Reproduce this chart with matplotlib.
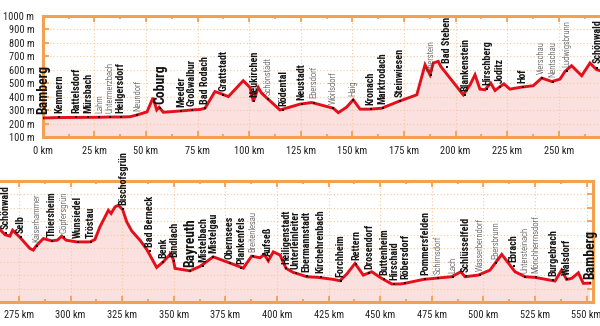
import matplotlib
matplotlib.use("Agg")
import matplotlib.pyplot as plt
from matplotlib.ticker import MultipleLocator, FuncFormatter, FixedLocator

plt.rcParams['font.family'] = ['Roboto Condensed', 'Asap Condensed', 'Archivo Narrow',
                               'Liberation Sans Narrow', 'DejaVu Sans']

# ---------------- data ----------------
profile_km = [0, 8, 16, 22, 27.5, 32.6, 37.7, 42.3, 45.6, 50.5, 53.4, 55.2, 56.4, 58.4, 67, 72.3,
              76.3, 78.6, 83.4, 85.7, 89.9, 97.1, 100.4, 102, 104.4, 106, 114.9, 124.6, 130.3,
              140.7, 143.2, 147.2, 150.4, 153.7, 158.5, 164.2, 172.2, 181.2, 185.2, 187.6, 189.2,
              191.6, 192.8, 203.7, 207, 209.4, 211.8, 214.2, 217, 219.1, 221.2, 223.4, 226.3, 232,
              237.6, 241.7, 246.6, 250.6, 253, 256.2, 261.1, 265.1, 268.3, 270.6, 271.9, 275.5,
              280.3, 281.9, 283.2, 286.8, 290.8, 293.6, 295.7, 297.8, 303, 309.4, 311.8, 314.2,
              318.3, 319.6, 321.5, 323.1, 325.2, 327.2, 329.6, 333.6, 336.9, 341.7, 344.9, 348.6,
              349.8, 350.6, 357.8, 362.7, 369.1, 377.2, 383.7, 387.7, 391.8, 393.8, 395.8, 398.2,
              401.5, 404.4, 407.9, 411.1, 414.4, 420, 427.3, 430.5, 433.8, 437.8, 441.8, 445.9,
              450.7, 455.6, 459.6, 462, 470.9, 476.6, 484.6, 489.1, 491.1, 497.5, 503.2, 505.6,
              508.9, 512.9, 515.3, 520.2, 525, 534.7, 537.9, 540.3, 542.8, 546, 548.4, 551.6]
profile_elev = [243, 246, 247, 248, 248, 250, 250, 252, 265, 288, 392, 302, 322, 285, 295, 302,
                306, 315, 438, 426, 401, 518, 468, 364, 468, 426, 302, 345, 357,
                315, 282, 323, 377, 308, 308, 315, 364, 414, 636, 562, 649,
                661, 624, 414, 488, 562, 456, 451, 501, 446, 471, 495, 456, 471,
                481, 538, 512, 530, 587, 629, 555, 649, 600, 590, 634, 580,
                498, 486, 515, 572, 555, 560, 590, 560, 547, 547, 565, 659,
                782, 758, 807, 820, 788, 696, 629, 560, 491, 357, 399, 461,
                412, 350, 332, 365, 436, 390, 352, 441, 429, 454, 406, 473,
                449, 350, 320, 305, 288, 283, 268, 258, 308, 387, 300, 325,
                276, 234, 234, 239, 268, 276, 288, 325, 288, 300, 337, 387,
                454, 374, 325, 288, 283, 256, 337, 268, 276, 317, 239, 240]

town_names = ["Bamberg", "Kemmern", "Rattelsdorf", "Mürsbach", "Lahm", "Untermerzbach",
              "Heilgersdorf", "Neundorf", "Coburg", "Meeder", "Großwalbur", "Bad Rodach",
              "Grattstadt", "Neukirchen", "Schönstädt", "Rödental", "Neustadt", "Ebersdorf",
              "Wörlsdorf", "Haig", "Kronach", "Marktrodach", "Steinwiesen", "Eberstein",
              "Bad Steben", "Blankenstein", "Hirschberg", "Joditz", "Hof", "Vierschau",
              "Nentschau", "Ludwigsbrunn", "Schönwald", "Selb", "Kaiserhammer", "Thiersheim",
              "Göpfersgrün", "Wunsiedel", "Tröstau", "Bischofsgrün", "Bad Berneck", "Benk",
              "Bindlach", "Bayreuth", "Mistelbach", "Mistelgau", "Obernsees", "Plankenfels",
              "Breitenlesau", "Aufseß", "Heiligenstadt", "Unterleinleiter", "Ebermannstadt",
              "Kirchehrenbach", "Forchheim", "Rettern", "Drosendorf", "Buttenheim", "Hirschaid",
              "Röbersdorf", "Pommersfelden", "Schirnsdorf", "Lach", "Schlüsselfeld",
              "Wasserberndorf", "Ebersbrunn", "Ebrach", "Untersteinach", "Mönchherrnsdorf",
              "Burgebrach", "Walsdorf", "Bamberg"]
town_km = [0, 8, 16.1, 22, 27.4, 32.6, 37.7, 45.8, 57, 67, 72.1, 78.6,
           87.5, 102.5, 109.3, 116.5, 125.4, 131.4, 140.7, 150.4, 158.9, 164.7, 173, 187.9,
           195.7, 204.6, 215.4, 221.5, 232.5, 241.7, 247, 253.8, 268.6, 275.8, 283.6, 290.8,
           296.8, 303.4, 309.7, 325.5, 338.5, 344.9, 350.2, 357.8, 364.3, 369.1, 377.2, 382.8,
           388.2, 395.8, 404.4, 409, 414.4, 421.2, 430.9, 438.3, 444.7, 452, 456.8,
           462, 471.7, 478.1, 485.1, 491.6, 498.4, 506.2, 514.6, 520.2, 525.5,
           533.9, 540.3, 551.6]
town_elev = [243, 247, 247, 248, 248, 250, 250, 262, 318, 295, 302, 315,
             415, 365, 385, 302, 345, 357, 315, 377, 308, 315, 365, 562,
             620, 414, 455, 471, 471, 538, 512, 590, 615, 580, 515, 555,
             585, 547, 547, 790, 480, 400, 405, 332, 370, 436, 390, 355,
             441, 410, 350, 312, 290, 283, 258, 385, 318, 270, 234,
             239, 268, 278, 288, 290, 300, 390, 370, 288, 283,
             260, 268, 240]
# 2 = main city, 1 = town, 0 = village
town_rank = [2, 1, 1, 1, 0, 0, 1, 0, 2, 1, 1, 1,
             1, 1, 0, 1, 1, 0, 0, 0, 1, 1, 1, 0,
             1, 1, 1, 1, 1, 0, 0, 0, 1, 1, 0, 1,
             0, 1, 1, 1, 1, 1, 1, 2, 1, 1, 1, 1,
             0, 1, 1, 1, 1, 1, 1, 1, 1, 1, 1,
             1, 1, 0, 0, 1, 0, 0, 1, 0, 0,
             1, 1, 2]

y_ticks = [100, 200, 300, 400, 500, 600, 700, 800, 900, 1000]
x_ticks = [0, 25, 50, 75, 100, 125, 150, 175, 200, 225, 250, 275, 300, 325, 350, 375,
           400, 425, 450, 475, 500, 525, 550]

# ---------------- style ----------------
ORANGE = '#f5a04e'
GRID = '#f6caa0'
RED = '#e3101c'
FILL = '#fbe0e0'

W, H = 600, 326
fig = plt.figure(figsize=(W / 100, H / 100), dpi=100)

px_per_km = 2.064
top_left_px, top_bottom_px, top_top_px = 42.8, 137.3, 15.5
bot_bottom_px, bot_top_px = 302.0, 181.0
top_xlim = (0, (W - top_left_px) / px_per_km)
bot_left_km = 275 - 19 / px_per_km
bot_right_px = 593.3
bot_xlim = (bot_left_km, bot_left_km + bot_right_px / px_per_km)

ax1 = fig.add_axes([top_left_px / W, (H - top_bottom_px) / H,
                    (W - top_left_px) / W, (top_bottom_px - top_top_px) / H])
ax2 = fig.add_axes([0, (H - bot_bottom_px) / H,
                    bot_right_px / W, (bot_bottom_px - bot_top_px) / H])

size_for = {2: 9.8, 1: 7.3, 0: 6.2}
weight_for = {2: 'bold', 1: 'semibold', 0: 'light'}
color_for = {2: '#111111', 1: '#141414', 0: '#333333'}

for ax, xlim in ((ax1, top_xlim), (ax2, bot_xlim)):
    ax.fill_between(profile_km, profile_elev, 0, color=FILL, lw=0, zorder=1)
    ax.xaxis.set_major_locator(FixedLocator(x_ticks))
    ax.xaxis.set_minor_locator(MultipleLocator(12.5))
    ax.yaxis.set_major_locator(FixedLocator(y_ticks))
    ax.grid(True, which='major', linestyle=(0, (1, 2)), color=GRID, linewidth=0.8, zorder=2)
    ax.plot(profile_km, profile_elev, color=RED, lw=2.1, solid_joinstyle='miter', zorder=3)
    ax.plot(town_km, town_elev, linestyle='none', marker='s', markersize=1.5,
            markeredgewidth=0, color='#111111', zorder=4)
    ax.set_xlim(*xlim)
    ax.set_ylim(100, 1000)
    for name, k, e, r in zip(town_names, town_km, town_elev, town_rank):
        if not (xlim[0] <= k <= xlim[1]):
            continue
        ax.annotate(name, xy=(k, e), xytext=(0, 3), textcoords='offset points',
                    rotation=90, ha='center', va='bottom', fontsize=size_for[r],
                    fontweight=weight_for[r], color=color_for[r], zorder=5,
                    annotation_clip=False)
    for s in ax.spines.values():
        s.set_color(ORANGE)
        s.set_linewidth(2.2)
    ax.tick_params(axis='both', which='major', direction='in', length=4, width=1.3,
                   color=ORANGE, top=True, bottom=True, left=True, right=True,
                   labelsize=7.5, labelcolor='#222222', pad=6)
    ax.tick_params(axis='both', which='minor', direction='in', length=2, width=1.3,
                   color=ORANGE, top=True, bottom=True)
    ax.xaxis.set_major_formatter(FuncFormatter(lambda v, p: f"{int(v)} km"))
    ax.set_facecolor('white')

ax1.spines['right'].set_visible(False)
ax1.tick_params(axis='y', right=False)
ax1.yaxis.set_major_formatter(FuncFormatter(lambda v, p: f"{int(v)} m"))
ax2.spines['left'].set_visible(False)
ax2.tick_params(axis='y', left=False, labelleft=False)

fig.savefig('out.png', dpi=100)
